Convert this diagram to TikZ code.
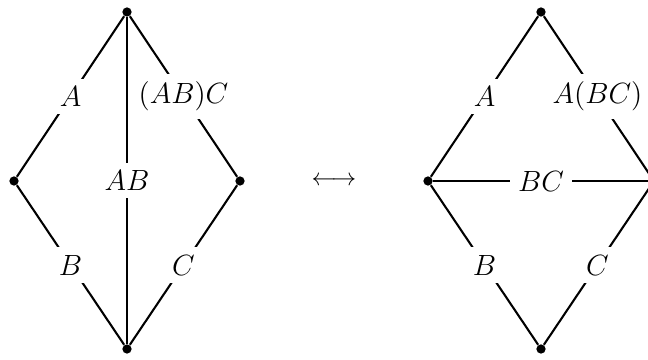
\documentclass[tikz,border=0pt]{standalone}
\begin{document}
\begin{tikzpicture}[x=0.41pt,y=-0.41pt,
  vtx/.style={circle,fill=black,inner sep=0pt,minimum size=3.8pt},
  edge/.style={line width=0.85pt},
  lab/.style={fill=white,inner sep=3.2pt,font=\large}]
\useasboundingbox (0,0) rectangle (648,360);
% left diamond
\node[vtx] (lt) at (127,12) {};
\node[vtx] (ll) at (14,181) {};
\node[vtx] (lr) at (240,181) {};
\node[vtx] (lb) at (127,349) {};
\draw[edge] (lt) -- node[lab] {$A$} (ll);
\draw[edge] (lt) -- node[lab] {$(AB)C$} (lr);
\draw[edge] (lt) -- node[lab] {$AB$} (lb);
\draw[edge] (ll) -- node[lab] {$B$} (lb);
\draw[edge] (lr) -- node[lab] {$C$} (lb);
% arrow
\node (arr) at (334,181) {$\longleftrightarrow$};
% right diamond
\node[vtx] (rt) at (541,12) {};
\node[vtx] (rl) at (428,181) {};
\node[vtx] (rr) at (654,181) {};
\node[vtx] (rb) at (541,349) {};
\draw[edge] (rt) -- node[lab] {$A$} (rl);
\draw[edge] (rt) -- node[lab] {$A(BC)$} (rr);
\draw[edge] (rl) -- node[lab] {$BC$} (rr);
\draw[edge] (rl) -- node[lab] {$B$} (rb);
\draw[edge] (rr) -- node[lab] {$C$} (rb);
\end{tikzpicture}
\end{document}
